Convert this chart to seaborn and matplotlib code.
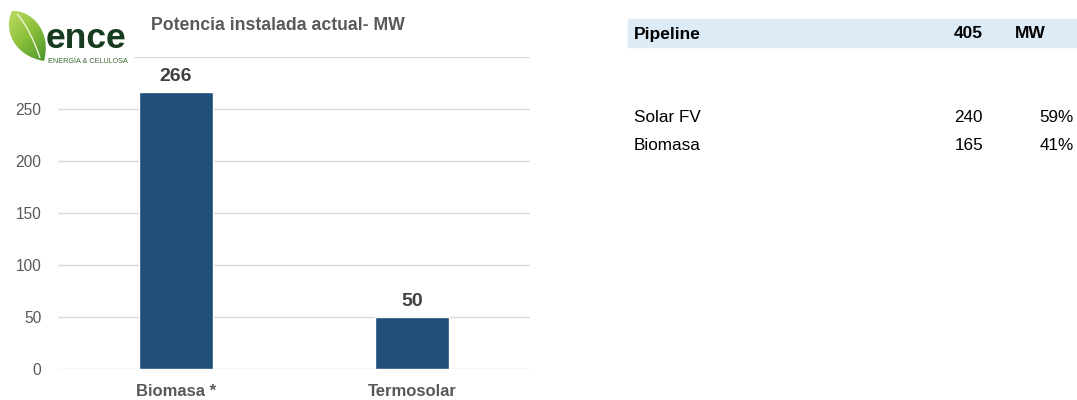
import matplotlib
matplotlib.use("Agg")
import matplotlib.pyplot as plt
from matplotlib.patches import Rectangle, PathPatch
from matplotlib.path import Path
import numpy as np
import seaborn as sns
import pandas as pd

# Installed capacity (MW)
categories = ["Biomasa *", "Termosolar"]
capacity_mw = [266, 50]

# Pipeline breakdown
pipeline_total = 405
pipeline_unit = "MW"
pipeline_tech = ["Solar FV", "Biomasa"]
pipeline_mw = [240, 165]
pipeline_share = ["59%", "41%"]

title = "Potencia instalada actual- MW"

sns.set_theme(style="white")
plt.rcParams["font.family"] = ["Liberation Sans", "DejaVu Sans"]

W, H = 1077, 400
fig = plt.figure(figsize=(W / 100, H / 100), dpi=100)

BAR = "#1f4e79"
GRID = "#d9d9d9"
TXT = "#595959"
LBL = "#404040"

# Bar chart axes
ax = fig.add_axes([58 / W, 1 - 369 / H, 472 / W, (369 - 57) / H])
df = pd.DataFrame({"cat": categories, "mw": capacity_mw})
sns.barplot(data=df, x="cat", y="mw", color=BAR, width=0.31, saturation=1, ax=ax, zorder=3)
ax.set_xlim(-0.5, 1.5)
ax.set_ylim(0, 300)
ax.set_yticks(range(0, 301, 50))
ax.set_yticklabels([str(v) for v in range(0, 251, 50)] + [""])
ax.yaxis.grid(True, color=GRID, linewidth=1.0, zorder=0)
ax.set_axisbelow(True)
for s in ax.spines.values():
    s.set_visible(False)
ax.set_xlabel("")
ax.set_ylabel("")
ax.tick_params(axis="y", length=0, pad=12, labelsize=11.2, labelcolor=TXT)
ax.tick_params(axis="x", length=0, pad=11, labelsize=12)
for t in ax.get_xticklabels():
    t.set_fontweight("bold")
    t.set_color(TXT)
for c in ax.containers:
    ax.bar_label(c, labels=[str(v) for v in capacity_mw], padding=5,
                 fontsize=14, fontweight="bold", color=LBL)

# Overlay for title, logo and pipeline table (pixel coordinates)
ov = fig.add_axes([0, 0, 1, 1], zorder=5)
ov.set_xlim(0, W)
ov.set_ylim(H, 0)
ov.axis("off")
ov.patch.set_alpha(0)

# logo area background
ov.add_patch(Rectangle((0, 0), 133, 64, color="white", zorder=1))
# leaf with a light-to-dark green gradient
leaf = Path([(44, 61),
             (14, 56), (3, 30), (12, 11),
             (32, 10), (52, 32), (44, 61),
             (44, 61)],
            [Path.MOVETO, Path.CURVE4, Path.CURVE4, Path.CURVE4,
             Path.CURVE4, Path.CURVE4, Path.CURVE4, Path.CLOSEPOLY])
leaf_patch = PathPatch(leaf, facecolor="none", edgecolor="none", zorder=2)
ov.add_patch(leaf_patch)
gx, gy = np.meshgrid(np.linspace(0, 1, 60), np.linspace(0, 1, 60))
grad = (gx + gy) / 2
cmap = matplotlib.colors.LinearSegmentedColormap.from_list("leaf", ["#c6e06a", "#8cc03a", "#3f8e2c"])
img = ov.imshow(grad, cmap=cmap, extent=[3, 52, 62, 9], origin="upper", zorder=2,
                aspect="auto", interpolation="bilinear")
img.set_clip_path(leaf_patch)
vein = Path([(17, 14), (26, 24), (34, 40), (40, 58)],
            [Path.MOVETO, Path.CURVE4, Path.CURVE4, Path.CURVE4])
ov.add_patch(PathPatch(vein, facecolor="none", edgecolor="#eef6d8", lw=1.0, zorder=3))
ov.set_xlim(0, W)
ov.set_ylim(H, 0)
ov.text(46, 48, "ence", fontsize=25.5, fontweight="bold", color="#173b1e",
        ha="left", va="baseline", zorder=3)
ov.text(48, 63, "ENERGÍA & CELULOSA", fontsize=5.2, color="#3c6a34", ha="left",
        va="baseline", zorder=3)

ov.text(151, 26, title, fontsize=12.7, fontweight="bold", color=TXT, ha="left", va="center")

# Pipeline table
FS = 12.3
ov.add_patch(Rectangle((628, 19), W - 628, 28, color="#ddebf7", zorder=1))
ov.text(634, 34, "Pipeline", fontsize=12.5, fontweight="bold", color="black", va="center", zorder=2)
ov.text(983, 34, str(pipeline_total), fontsize=12.5, fontweight="bold", color="black",
        ha="right", va="center", zorder=2)
ov.text(1015, 34, pipeline_unit, fontsize=12.5, fontweight="bold", color="black",
        ha="left", va="center", zorder=2)
for i, (name, mw, share) in enumerate(zip(pipeline_tech, pipeline_mw, pipeline_share)):
    y = 117 + i * 29
    ov.text(634, y, name, fontsize=FS, color="black", va="center")
    ov.text(983, y, str(mw), fontsize=FS, color="black", ha="right", va="center")
    ov.text(1074, y, share, fontsize=FS, color="black", ha="right", va="center")

fig.savefig("out.png", dpi=100)
